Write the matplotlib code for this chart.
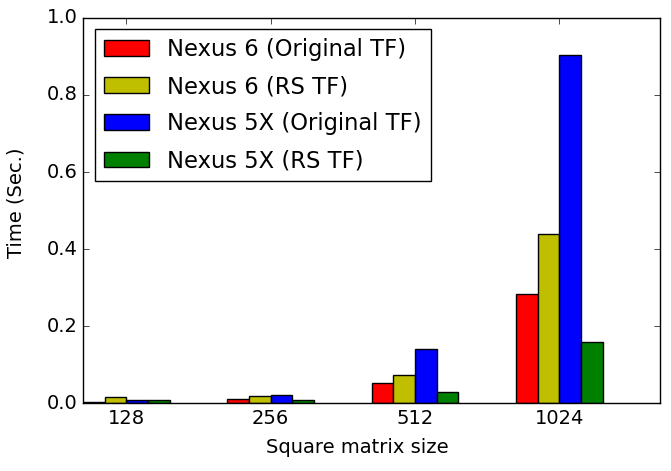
import numpy as np
import matplotlib
matplotlib.use("Agg")
import matplotlib.pyplot as plt

plt.style.use("classic")

sizes = ["128", "256", "512", "1024"]
series_names = ["Nexus 6 (Original TF)", "Nexus 6 (RS TF)",
                "Nexus 5X (Original TF)", "Nexus 5X (RS TF)"]
n6_orig = [0.004, 0.012, 0.052, 0.283]
n6_rs = [0.015, 0.019, 0.073, 0.440]
n5x_orig = [0.008, 0.022, 0.140, 0.904]
n5x_rs = [0.009, 0.009, 0.029, 0.158]
colors = ["r", "y", "b", "g"]

ind = np.arange(len(sizes))
width = 0.15

fig = plt.figure(figsize=(6.71, 4.71), dpi=100, facecolor="white")
ax = fig.add_axes([0.124, 0.144, 0.86, 0.818])

for i, (vals, name) in enumerate(zip([n6_orig, n6_rs, n5x_orig, n5x_rs], series_names)):
    ax.bar(ind + i * width, vals, width, color=colors[i], label=name, align="edge")

ax.set_xticks(ind + 2 * width)
ax.set_xticklabels(sizes)
ax.set_xlim(0, 4)
ax.set_ylim(0, 1.0)
ax.set_yticks(np.arange(0, 1.01, 0.2))
ax.tick_params(labelsize=14)
ax.set_xlabel("Square matrix size", fontsize=14)
ax.set_ylabel("Time (Sec.)", fontsize=14)
ax.xaxis.set_label_coords(0.475, -0.09)
ax.yaxis.set_label_coords(-0.1, 0.52)
ax.legend(loc="upper left", fontsize=16.3, labelspacing=0.62)

fig.savefig("out.png", dpi=100, facecolor="white")
